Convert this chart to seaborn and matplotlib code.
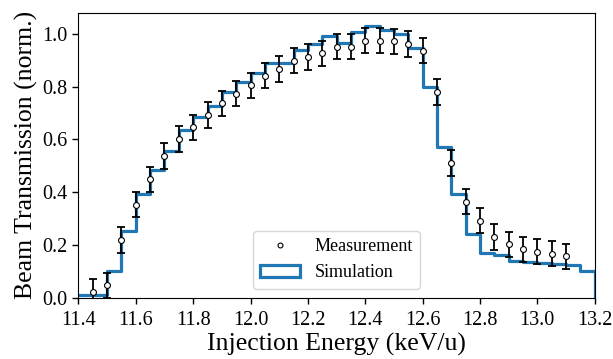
import numpy as np
import matplotlib
matplotlib.use("Agg")
import matplotlib.pyplot as plt
from matplotlib.lines import Line2D
from matplotlib.patches import Patch
import seaborn as sns

# simulation: transmission per 0.05 keV/u bin, 11.40 -> 13.20
sim_edges = np.round(np.arange(11.40, 13.2001, 0.05), 2)
sim_values = [0.010, 0.010, 0.100, 0.253, 0.392, 0.484, 0.555, 0.637, 0.686,
              0.728, 0.779, 0.819, 0.851, 0.891, 0.891, 0.939, 0.963, 0.992,
              0.965, 1.009, 1.030, 1.015, 1.000, 0.948, 0.797, 0.573, 0.392,
              0.240, 0.168, 0.162, 0.139, 0.134, 0.130, 0.127, 0.124, 0.102]

# measurement points
meas_energy = np.round(np.arange(11.45, 13.1001, 0.05), 2)
meas_values = [0.023, 0.047, 0.219, 0.353, 0.449, 0.537, 0.602, 0.646, 0.693,
               0.737, 0.774, 0.805, 0.842, 0.867, 0.898, 0.913, 0.927, 0.952,
               0.952, 0.975, 0.975, 0.972, 0.962, 0.937, 0.780, 0.511, 0.364,
               0.292, 0.230, 0.202, 0.183, 0.174, 0.166, 0.157]
meas_err = [0.048] * len(meas_values)

sns.set_style("ticks", {"axes.edgecolor": "black", "xtick.color": "black",
                        "ytick.color": "black", "text.color": "black",
                        "axes.labelcolor": "black"})
plt.rcParams['font.family'] = ['Liberation Serif', 'DejaVu Serif']

blue = '#1f77b4'
fig, ax = plt.subplots(figsize=(6.13, 3.59), dpi=100)
fig.subplots_adjust(left=0.128, right=0.970, top=0.965, bottom=0.171)

# step outline of the simulation, dropping to zero at the last edge
sns.lineplot(x=sim_edges, y=np.append(sim_values, 0.0), drawstyle='steps-post',
             color=blue, linewidth=2.3, estimator=None, sort=False, ax=ax,
             zorder=2)

ax.errorbar(meas_energy, meas_values, yerr=meas_err, fmt='none', ecolor='black',
            elinewidth=1.3, capsize=3.2, capthick=1.3, zorder=3)
sns.scatterplot(x=meas_energy, y=meas_values, marker='o', s=18,
                facecolor='white', edgecolor='black', linewidth=0.8,
                ax=ax, zorder=4)

ax.set_xlim(11.4, 13.2)
ax.set_ylim(0, 1.081)
ax.set_xticks(np.round(np.arange(11.4, 13.21, 0.2), 1))
ax.set_yticks([0.0, 0.2, 0.4, 0.6, 0.8, 1.0])
ax.tick_params(labelsize=14.5, length=4, width=1, pad=4)
ax.tick_params(axis='x', pad=6)
ax.set_xlabel('Injection Energy (keV/u)', fontsize=18.5, labelpad=2)
ax.set_ylabel('Beam Transmission (norm.)', fontsize=18.5, labelpad=3)

handles = [Line2D([], [], marker='o', ls='', markerfacecolor='white',
                  markeredgecolor='black', markersize=3.5, markeredgewidth=0.8),
           Patch(facecolor='white', edgecolor=blue, linewidth=2.3)]
ax.legend(handles, ['Measurement', 'Simulation'], loc='lower center',
          fontsize=13, frameon=True, handlelength=2.2)

fig.savefig('out.png', dpi=100)
